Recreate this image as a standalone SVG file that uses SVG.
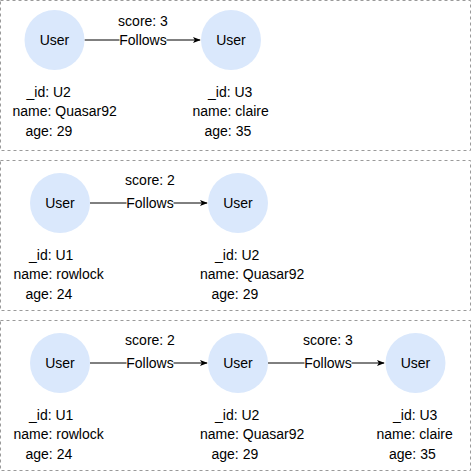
<svg xmlns="http://www.w3.org/2000/svg" width="471" height="471" viewBox="0 0 471 471">
<defs>
<style>
.panel{fill:#ffffff;stroke:#9a9a9a;stroke-width:1;stroke-dasharray:3 3}
.node{fill:#dae8fc;stroke:none}
text{font-family:"Liberation Sans",Arial,sans-serif;font-size:14px;fill:#000}
.c{text-anchor:middle}
.edge{stroke:#000;stroke-width:1;fill:none;marker-end:url(#arr)}
.lblbg{fill:#ffffff}
</style>
<marker id="arr" viewBox="0 0 10 10" refX="9" refY="5" markerWidth="8" markerHeight="8" markerUnits="userSpaceOnUse" orient="auto">
<path d="M0,1 L10,5 L0,9 L2.5,5 Z" fill="#000"/>
</marker>
</defs>
<rect class="panel" x="0.5" y="0.5" width="470" height="150"/>
<rect class="panel" x="0.5" y="160.5" width="470" height="150"/>
<rect class="panel" x="0.5" y="320.5" width="470" height="150"/>
<g id="connectors">
<path class="edge" d="M84.5,40 L200,40"/>
<rect class="lblbg" x="119.5" y="31" width="47" height="18"/>
<text class="c" x="143" y="45">Follows</text>
<text class="c" x="143" y="25.5">score: 3</text>
<path class="edge" d="M90,203 L207,203"/>
<rect class="lblbg" x="126.5" y="194" width="47" height="18"/>
<text class="c" x="150" y="208">Follows</text>
<text class="c" x="150" y="185">score: 2</text>
<path class="edge" d="M90,363 L207,363"/>
<rect class="lblbg" x="126.5" y="354" width="47" height="18"/>
<text class="c" x="150" y="368">Follows</text>
<text class="c" x="150" y="345">score: 2</text>
<path class="edge" d="M268,363 L384,363"/>
<rect class="lblbg" x="304.5" y="354" width="47" height="18"/>
<text class="c" x="328" y="368">Follows</text>
<text class="c" x="328" y="345">score: 3</text>
</g>
<g id="p1-u2">
<circle class="node" cx="54.5" cy="40" r="30"/>
<text class="c" x="54.5" y="45">User</text>
<text x="26.5" y="96.5">_id: U2</text>
<text x="12.5" y="116">name: Quasar92</text>
<text x="25.5" y="135.5">age: 29</text>
</g>
<g id="p1-u3">
<circle class="node" cx="231" cy="40" r="30"/>
<text class="c" x="231" y="45">User</text>
<text x="208" y="96.5">_id: U3</text>
<text x="192.5" y="116">name: claire</text>
<text x="204.5" y="135.5">age: 35</text>
</g>
<g id="p2-u1">
<circle class="node" cx="60" cy="203" r="30"/>
<text class="c" x="60" y="208">User</text>
<text x="29" y="259.5">_id: U1</text>
<text x="13.5" y="279">name: rowlock</text>
<text x="25.5" y="298.5">age: 24</text>
</g>
<g id="p2-u2">
<circle class="node" cx="238" cy="203" r="30"/>
<text class="c" x="238" y="208">User</text>
<text x="215" y="259.5">_id: U2</text>
<text x="200" y="279">name: Quasar92</text>
<text x="211.5" y="298.5">age: 29</text>
</g>
<g id="p3-u1">
<circle class="node" cx="60" cy="363" r="30"/>
<text class="c" x="60" y="368">User</text>
<text x="29" y="419.5">_id: U1</text>
<text x="13.5" y="439">name: rowlock</text>
<text x="25.5" y="458.5">age: 24</text>
</g>
<g id="p3-u2">
<circle class="node" cx="238" cy="363" r="30"/>
<text class="c" x="238" y="368">User</text>
<text x="215" y="419.5">_id: U2</text>
<text x="200" y="439">name: Quasar92</text>
<text x="211.5" y="458.5">age: 29</text>
</g>
<g id="p3-u3">
<circle class="node" cx="415.5" cy="363" r="30"/>
<text class="c" x="415.5" y="368">User</text>
<text x="393" y="419.5">_id: U3</text>
<text x="376.5" y="439">name: claire</text>
<text x="389" y="458.5">age: 35</text>
</g>
</svg>
